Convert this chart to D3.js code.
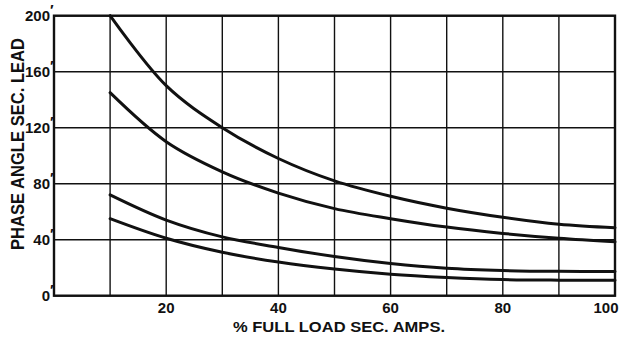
<!DOCTYPE html>
<html>
<head>
<meta charset="utf-8">
<script src="https://cdn.jsdelivr.net/npm/d3@7/dist/d3.min.js"></script>
<style>
  html, body { margin: 0; padding: 0; background: #fff; }
  svg { display: block; }
  text { font-family: "Liberation Sans", Arial, sans-serif; font-weight: bold; fill: #111; }
</style>
</head>
<body>
<svg id="chart" width="620" height="338"></svg>
<script>
// Load in percent of full-load secondary current
const loadPct = [10, 20, 30, 40, 50, 60, 70, 80, 90, 100];

// Phase angle (minutes, secondary leading) for each curve
const curveA = [200, 150, 120, 98, 82, 71, 62.5, 56, 51, 48.5];
const curveB = [145, 110, 88.5, 73.3, 62.2, 55, 49, 44.5, 41, 38.5];
const curveC = [72, 54, 42, 34.5, 28, 23, 19.6, 18, 17.4, 17.3];
const curveD = [55, 41, 31, 24, 19, 15.3, 13, 11.5, 11.1, 11.1];

const xTickLabels = [20, 40, 60, 80, 100];
const yTickLabels = [0, 40, 80, 120, 160, 200];
const xGrid = [10, 20, 30, 40, 50, 60, 70, 80, 90, 100];

const xTitle = "% FULL LOAD SEC. AMPS.";
const yTitle = "PHASE ANGLE SEC. LEAD";

const svg = d3.select("#chart");
const plotLeft = 54, plotRight = 615, plotTop = 15.7, plotBottom = 295.7;

const x = d3.scaleLinear().domain([0, 100]).range([plotLeft, plotRight]);
const y = d3.scaleLinear().domain([0, 200]).range([plotBottom, plotTop]);

// grid
const grid = svg.append("g").attr("stroke", "#111").attr("stroke-width", 1.4);
grid.selectAll("line.v").data(xGrid).join("line")
  .attr("class", "v")
  .attr("x1", d => x(d)).attr("x2", d => x(d))
  .attr("y1", y(0)).attr("y2", y(200));
grid.selectAll("line.h").data(yTickLabels).join("line")
  .attr("class", "h")
  .attr("x1", x(0)).attr("x2", x(100))
  .attr("y1", d => y(d)).attr("y2", d => y(d));

// frame
svg.append("rect")
  .attr("x", x(0)).attr("y", y(200))
  .attr("width", x(100) - x(0)).attr("height", y(0) - y(200))
  .attr("fill", "none").attr("stroke", "#111").attr("stroke-width", 2.4);

// curves
const line = d3.line()
  .x((d, i) => x(loadPct[i]))
  .y(d => y(d))
  .curve(d3.curveCatmullRom.alpha(0.5));

svg.append("g").selectAll("path").data([curveA, curveB, curveC, curveD]).join("path")
  .attr("d", line)
  .attr("fill", "none").attr("stroke", "#111").attr("stroke-width", 3)
  .attr("stroke-linecap", "round");

// y tick labels with minute marks
const yLab = svg.append("g").attr("font-size", 15);
yTickLabels.forEach(v => {
  yLab.append("text")
    .attr("x", x(0) - 4).attr("y", y(v) + 5)
    .attr("text-anchor", "end")
    .text(v);
  yLab.append("text")
    .attr("x", x(0) - 4).attr("y", y(v) - 0.5)
    .attr("font-weight", "normal")
    .attr("font-size", 15)
    .text("\u2032");
});

// x tick labels (the last one is pulled inside the right edge)
svg.append("g").attr("font-size", 15).selectAll("text").data(xTickLabels).join("text")
  .attr("x", d => d === 100 ? x(d) + 3.5 : x(d)).attr("y", 313)
  .attr("text-anchor", d => d === 100 ? "end" : "middle")
  .text(d => d);

// axis titles
svg.append("text")
  .attr("x", 233).attr("y", 332)
  .attr("font-size", 14)
  .attr("textLength", 212).attr("lengthAdjust", "spacingAndGlyphs")
  .text(xTitle);

svg.append("text")
  .attr("transform", "translate(23.5,250) rotate(-90)")
  .attr("font-size", 18)
  .attr("textLength", 212).attr("lengthAdjust", "spacingAndGlyphs")
  .text(yTitle);
</script>
</body>
</html>
